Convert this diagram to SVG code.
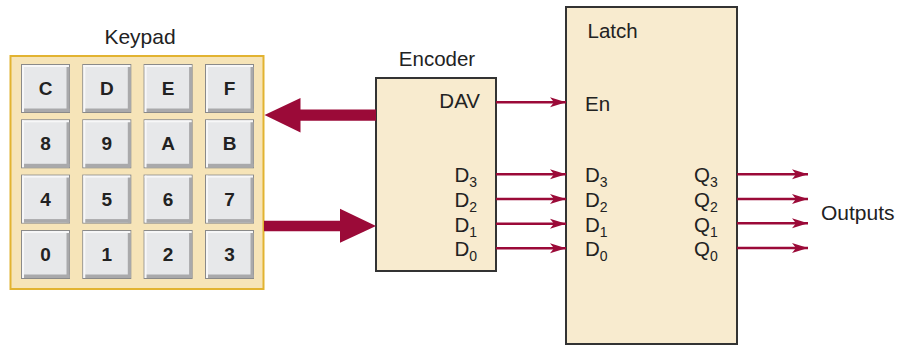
<svg xmlns="http://www.w3.org/2000/svg" width="900" height="346" viewBox="0 0 900 346">
<defs>
<style>
text{font-family:"Liberation Sans",Arial,sans-serif;fill:#222;}
.lbl{font-size:20.5px;}
.sub{font-size:14px;}
.key text{font-size:19px;font-weight:bold;text-anchor:middle;}
.keyb{fill:#e7e8ea;stroke:#8a8a8a;stroke-width:1;}
.kshade{fill:#a9a9ab;}
.khi{fill:#f7f7f8;}
.box{fill:#f8ebcf;stroke:#333;stroke-width:2;}
.wire{stroke:#9b0a38;stroke-width:2.5;fill:none;}
.big{fill:#9b0a38;}
</style>
<marker id="ah" markerWidth="18" markerHeight="12" refX="16" refY="6" orient="auto" markerUnits="userSpaceOnUse">
<path d="M0,1 L16,6 L0,11 L4,6 Z" fill="#9b0a38"/>
</marker>
<g id="keyshape">
<rect class="keyb" x="0.5" y="0.5" width="48" height="48"/>
<rect class="khi" x="1" y="1" width="47" height="2"/>
<rect class="khi" x="1" y="1" width="2" height="47"/>
<rect class="kshade" x="3" y="44.5" width="45.5" height="3.5"/>
<rect class="kshade" x="45.5" y="3" width="3" height="45"/>
</g>
</defs>
<rect x="0" y="0" width="900" height="346" fill="#fff"/>

<g id="keypad">
<text class="lbl" x="140" y="44" text-anchor="middle" style="font-size:21px">Keypad</text>
<rect x="10.5" y="56" width="253" height="233" fill="#f6e4b8" stroke="#e2b331" stroke-width="2"/>
<g class="key">
<use href="#keyshape" x="21" y="64"/><text x="45.5" y="95">C</text>
<use href="#keyshape" x="82.3" y="64"/><text x="106.8" y="95">D</text>
<use href="#keyshape" x="143.6" y="64"/><text x="168.1" y="95">E</text>
<use href="#keyshape" x="205" y="64"/><text x="229.5" y="95">F</text>
<use href="#keyshape" x="21" y="119.3"/><text x="45.5" y="150.3">8</text>
<use href="#keyshape" x="82.3" y="119.3"/><text x="106.8" y="150.3">9</text>
<use href="#keyshape" x="143.6" y="119.3"/><text x="168.1" y="150.3">A</text>
<use href="#keyshape" x="205" y="119.3"/><text x="229.5" y="150.3">B</text>
<use href="#keyshape" x="21" y="174.6"/><text x="45.5" y="205.6">4</text>
<use href="#keyshape" x="82.3" y="174.6"/><text x="106.8" y="205.6">5</text>
<use href="#keyshape" x="143.6" y="174.6"/><text x="168.1" y="205.6">6</text>
<use href="#keyshape" x="205" y="174.6"/><text x="229.5" y="205.6">7</text>
<use href="#keyshape" x="21" y="230"/><text x="45.5" y="261">0</text>
<use href="#keyshape" x="82.3" y="230"/><text x="106.8" y="261">1</text>
<use href="#keyshape" x="143.6" y="230"/><text x="168.1" y="261">2</text>
<use href="#keyshape" x="205" y="230"/><text x="229.5" y="261">3</text>
</g>
</g>

<g id="encoder">
<text class="lbl" x="437" y="66" text-anchor="middle">Encoder</text>
<rect class="box" x="376" y="78" width="120" height="193"/>
<text class="lbl" x="480" y="108" text-anchor="end">DAV</text>
<text class="lbl" x="477" y="182" text-anchor="end">D<tspan class="sub" dy="5">3</tspan></text>
<text class="lbl" x="477" y="207" text-anchor="end">D<tspan class="sub" dy="5">2</tspan></text>
<text class="lbl" x="477" y="231.5" text-anchor="end">D<tspan class="sub" dy="5">1</tspan></text>
<text class="lbl" x="477" y="256" text-anchor="end">D<tspan class="sub" dy="5">0</tspan></text>
</g>

<g id="latch">
<rect class="box" x="566" y="7" width="171" height="337"/>
<text class="lbl" x="587.5" y="38">Latch</text>
<text class="lbl" x="585" y="110.5">En</text>
<text class="lbl" x="585" y="182">D<tspan class="sub" dy="5">3</tspan></text>
<text class="lbl" x="585" y="207">D<tspan class="sub" dy="5">2</tspan></text>
<text class="lbl" x="585" y="231.5">D<tspan class="sub" dy="5">1</tspan></text>
<text class="lbl" x="585" y="256">D<tspan class="sub" dy="5">0</tspan></text>
<text class="lbl" x="694" y="182">Q<tspan class="sub" dy="5">3</tspan></text>
<text class="lbl" x="694" y="207">Q<tspan class="sub" dy="5">2</tspan></text>
<text class="lbl" x="694" y="231.5">Q<tspan class="sub" dy="5">1</tspan></text>
<text class="lbl" x="694" y="256">Q<tspan class="sub" dy="5">0</tspan></text>
</g>

<g id="outputs">
<text class="lbl" x="821" y="219.5" style="font-size:21px">Outputs</text>
</g>

<g id="connectors">
<path class="big" d="M376,109.5 L300.5,109.5 L300.5,98 L264.5,115 L300.5,132.5 L300.5,120.7 L376,120.7 Z"/>
<path class="big" d="M264,220.7 L340,220.7 L340,208.7 L376,226 L340,242.7 L340,231.3 L264,231.3 Z"/>
<line class="wire" x1="496" y1="102.3" x2="566" y2="102.3" marker-end="url(#ah)"/>
<line class="wire" x1="496" y1="174.3" x2="566" y2="174.3" marker-end="url(#ah)"/>
<line class="wire" x1="496" y1="199" x2="566" y2="199" marker-end="url(#ah)"/>
<line class="wire" x1="496" y1="223.7" x2="566" y2="223.7" marker-end="url(#ah)"/>
<line class="wire" x1="496" y1="248.3" x2="566" y2="248.3" marker-end="url(#ah)"/>
<line class="wire" x1="737" y1="174.3" x2="808" y2="174.3" marker-end="url(#ah)"/>
<line class="wire" x1="737" y1="199" x2="808" y2="199" marker-end="url(#ah)"/>
<line class="wire" x1="737" y1="223.3" x2="808" y2="223.3" marker-end="url(#ah)"/>
<line class="wire" x1="737" y1="248" x2="808" y2="248" marker-end="url(#ah)"/>
</g>
</svg>
